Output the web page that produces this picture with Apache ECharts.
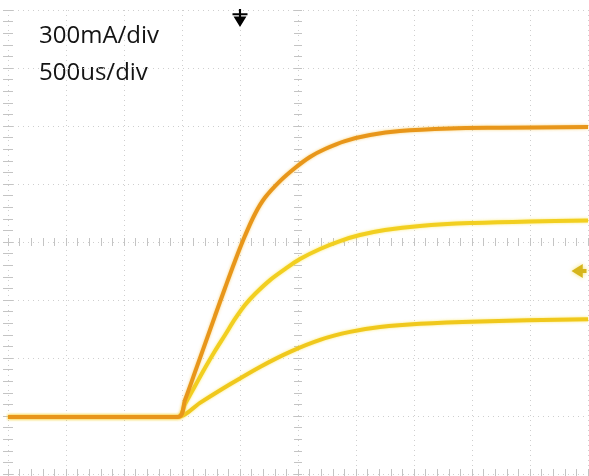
<!DOCTYPE html>
<html><head><meta charset="utf-8">
<script src="https://cdn.jsdelivr.net/npm/echarts@6/dist/echarts.min.js"></script>
<style>html,body{margin:0;padding:0;background:#fff}#c{width:589px;height:476px}</style>
</head><body><div id="c"></div>
<script>
// Time in ms (500us/div, 10 div), current in A (300mA/div, 8 div)
const orangeT = [0, 1.466, 1.526, 1.612, 1.698, 1.784, 1.871, 1.957, 2.043, 2.129, 2.216, 2.345, 2.474, 2.603, 2.733, 2.905, 3.121, 3.379, 3.810, 4.241, 5.0];
const orangeI = [0.295, 0.295, 0.383, 0.527, 0.672, 0.817, 0.962, 1.102, 1.232, 1.345, 1.430, 1.515, 1.583, 1.640, 1.681, 1.722, 1.753, 1.774, 1.787, 1.791, 1.795];
const midT = [0, 1.466, 1.526, 1.612, 1.698, 1.784, 1.871, 1.957, 2.043, 2.129, 2.259, 2.388, 2.517, 2.690, 2.862, 3.034, 3.250, 3.552, 3.983, 4.500, 5.0];
const midI = [0.295, 0.295, 0.362, 0.455, 0.548, 0.636, 0.719, 0.802, 0.874, 0.931, 1.003, 1.060, 1.112, 1.164, 1.205, 1.236, 1.262, 1.283, 1.298, 1.306, 1.311];
const lowT = [0, 1.466, 1.655, 1.914, 2.172, 2.431, 2.690, 2.948, 3.207, 3.552, 4.069, 5.0];
const lowI = [0.295, 0.295, 0.368, 0.464, 0.554, 0.632, 0.694, 0.735, 0.760, 0.777, 0.789, 0.801];
const labels = ['300mA/div', '500us/div'];
const xMax = 5, xDiv = 0.5, yMax = 2.4, yDiv = 0.3;
const triggerT = 2.0, triggerLevel = 1.05;

const pairs = (t, v) => t.map((x, i) => [x, v[i]]);
const tickStyle = {color: '#c4c4c4', width: 1};
const gridStyle = {color: '#cfcfcf', type: [1, 4], width: 1};
function xAx(pos, offset, len, split) {
  return {type: 'value', min: 0, max: xMax, interval: xDiv, position: pos, offset: offset,
    axisLine: {show: false}, axisLabel: {show: false},
    axisTick: {show: true, inside: true, length: len, lineStyle: tickStyle},
    minorTick: {show: true, splitNumber: 5, length: len, lineStyle: tickStyle},
    splitLine: {show: split, lineStyle: gridStyle}};
}
function yAx(pos, offset, len, split) {
  return {type: 'value', min: 0, max: yMax, interval: yDiv, position: pos, offset: offset,
    axisLine: {show: false}, axisLabel: {show: false},
    axisTick: {show: true, inside: true, length: len, lineStyle: tickStyle},
    minorTick: {show: true, splitNumber: 5, length: len, lineStyle: tickStyle},
    splitLine: {show: split, lineStyle: gridStyle}};
}
const chart = echarts.init(document.getElementById('c'), null, {renderer: 'canvas'});
chart.setOption({
  animation: false,
  backgroundColor: '#fff',
  grid: {left: 8, top: 10, width: 580, height: 464},
  xAxis: [xAx('bottom', 0, 5, true), xAx('top', 0, 5, false), xAx('bottom', -232, 4, false), xAx('top', -232, 4, false)],
  yAxis: [yAx('left', 0, 5, true), yAx('right', 0, 5, false), yAx('left', -290, 4, false), yAx('right', -290, 4, false)],
  graphic: labels.map((s, i) => ({type: 'text', left: 39, top: 24 + i * 37,
    style: {text: s, font: '24px "Open Sans"', fill: '#141414'}})),
  series: [
    {type: 'line', data: pairs(lowT, lowI), smooth: 0.3, showSymbol: false,
      lineStyle: {color: '#f0c81c', width: 4, shadowColor: 'rgba(250,225,60,0.7)', shadowBlur: 3}, z: 2},
    {type: 'line', data: pairs(midT, midI), smooth: 0.3, showSymbol: false,
      lineStyle: {color: '#f2cf20', width: 4, shadowColor: 'rgba(250,225,60,0.7)', shadowBlur: 3}, z: 3,
      markPoint: {silent: true, label: {show: false}, data: [{coord: [xMax, triggerLevel],
        symbol: 'path://M12,0 L12,5 L16,5 L16,9 L12,9 L12,14 L0,7 Z', symbolSize: [15, 14], symbolOffset: [-9, 0],
        itemStyle: {color: '#d6b51c', shadowColor: 'rgba(240,220,80,0.8)', shadowBlur: 4}}]}},
    {type: 'line', data: pairs(orangeT, orangeI), smooth: 0.35, showSymbol: false,
      lineStyle: {color: '#e8961a', width: 4, shadowColor: 'rgba(245,190,60,0.7)', shadowBlur: 3}, z: 4,
      markPoint: {silent: true, label: {show: false}, data: [{coord: [triggerT, yMax],
        symbol: 'path://M6,0 L8,0 L8,4 L14,4 L14,6 L8,6 L8,7 L13,7 L7,17 L1,7 L6,7 L6,6 L0,6 L0,4 L6,4 Z',
        symbolSize: [15, 18], symbolOffset: [0, 8], itemStyle: {color: '#000'}}]}}
  ]
});
</script></body></html>
